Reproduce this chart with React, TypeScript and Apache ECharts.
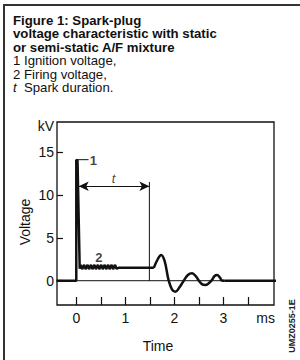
import React, { useEffect, useRef } from "react";
import * as echarts from "echarts";

// Spike + firing-voltage segment (ms, kV)
const spikeSeries: [number, number][] = [
  [-0.4, 0], [0, 0], [0, 14.1], [0.025, 14.0], [0.07, 1.4],
  [0.09, 1.85], [0.12, 1.35], [0.16, 1.85], [0.19, 1.35], [0.23, 1.85],
  [0.26, 1.35], [0.30, 1.85], [0.33, 1.35], [0.37, 1.85], [0.40, 1.35],
  [0.44, 1.85], [0.47, 1.35], [0.51, 1.85], [0.54, 1.35], [0.58, 1.85],
  [0.61, 1.35], [0.65, 1.85], [0.68, 1.35], [0.72, 1.85], [0.75, 1.35],
  [0.79, 1.85], [0.82, 1.4], [0.86, 1.5], [1.58, 1.5],
];
// Damped oscillation after spark end
const ringSeries: [number, number][] = [
  [1.58, 1.5], [1.66, 2.5], [1.73, 3.0], [1.8, 2.3], [1.88, 0.1],
  [1.95, -1.0], [2.02, -1.28], [2.1, -0.8], [2.19, 0], [2.28, 0.7],
  [2.36, 0.86], [2.44, 0.5], [2.5, 0], [2.56, -0.4], [2.63, -0.5],
  [2.7, -0.3], [2.76, 0.05], [2.82, 0.55], [2.87, 0.66], [2.93, 0.35],
  [2.97, 0.02], [3.02, 0],
];
const tailSeries: [number, number][] = [[3.02, 0], [4.1, 0]];
// Annotation lines
const zeroLine: [number, number][] = [[-0.4, 0], [4.1, 0]];
const sparkEndLine: [number, number][] = [[1.49, 0], [1.49, 11.5]];
const leaderLine: [number, number][] = [[0.02, 14.1], [0.25, 14.1]];
const durationArrow: [number, number][] = [[0.05, 11], [1.49, 11]];

const xTickValues = [0, 0.5, 1, 1.5, 2, 2.5, 3, 3.5];
const xLabelValues = [0, 1, 2, 3, 3.86];
const xLabelTexts = ["0", "1", "2", "3", "ms"];
const yTickValues = [0, 5, 10, 15];
const yLabelValues = [0, 5, 10, 15, 18.0];
const yLabelTexts = ["0", "5", "10", "15", "kV"];

const titleLines = [
  "Figure 1: Spark-plug",
  "voltage characteristic with static",
  "or semi-static A/F mixture",
];
const legendLines = ["1 Ignition voltage,", "2 Firing voltage,"];

const FONT = "'Liberation Sans', Arial, Helvetica, sans-serif";

export default function App() {
  const ref = useRef<HTMLDivElement>(null);
  useEffect(() => {
    if (!ref.current) return;
    const chart = echarts.init(ref.current, null, { renderer: "svg" });
    const titleY = [20, 33.5, 47];
    const legendY = [60.5, 74];
    const FS = 13.2;
    const graphic: any[] = [
      { type: "rect", shape: { x: 3, y: 4, width: 310, height: 2 }, style: { fill: "#333" } },
      { type: "rect", shape: { x: 3, y: 4, width: 2, height: 360 }, style: { fill: "#333" } },
      ...titleLines.map((t, i) => ({
        type: "text", x: 13, y: titleY[i],
        style: { text: t, font: `bold ${FS}px ${FONT}`, fill: "#111", verticalAlign: "middle" },
      })),
      ...legendLines.map((t, i) => ({
        type: "text", x: 13, y: legendY[i],
        style: { text: t, font: `${FS}px ${FONT}`, fill: "#111", verticalAlign: "middle" },
      })),
      {
        type: "text", x: 13, y: 87.5,
        style: {
          text: "{i|t}  Spark duration.",
          font: `${FS}px ${FONT}`, fill: "#111", verticalAlign: "middle",
          rich: { i: { fontStyle: "italic", fontFamily: FONT, fontSize: FS, fill: "#111" } },
        },
      },
      {
        type: "text", x: 158, y: 346,
        style: { text: "Time", font: `14px ${FONT}`, fill: "#111", align: "center", verticalAlign: "middle" },
      },
      {
        type: "text", x: 25, y: 222, rotation: Math.PI / 2,
        style: { text: "Voltage", font: `14px ${FONT}`, fill: "#111", align: "center", verticalAlign: "middle" },
      },
      {
        type: "text", x: 292, y: 326, rotation: Math.PI / 2,
        style: { text: "UMZ0255-1E", font: `bold 9px ${FONT}`, fill: "#222", align: "center", verticalAlign: "middle" },
      },
    ];

    const thin = (data: [number, number][]) => ({
      type: "line", data, showSymbol: false, silent: true,
      lineStyle: { color: "#111", width: 1 },
    });

    chart.setOption({
      animation: false,
      grid: { left: 57, right: 26, top: 122, bottom: 55, show: true, borderColor: "#111", borderWidth: 1.3, backgroundColor: "transparent" },
      xAxis: {
        type: "value", min: -0.393, max: 4.03,
        axisLine: { show: false, onZero: false },
        splitLine: { show: false },
        axisTick: { show: true, inside: true, length: 8, customValues: xTickValues, lineStyle: { color: "#111", width: 1.2 } },
        axisLabel: {
          customValues: xLabelValues, margin: 6, color: "#111", fontFamily: FONT, fontSize: 14,
          formatter: (v: number) => xLabelTexts[xLabelValues.indexOf(v)] ?? "",
        },
      },
      yAxis: {
        type: "value", min: -2.83, max: 18.49,
        axisLine: { show: false, onZero: false },
        splitLine: { show: false },
        axisTick: { show: true, inside: true, length: 6, customValues: yTickValues, lineStyle: { color: "#111", width: 1.2 } },
        axisLabel: {
          customValues: yLabelValues, margin: 3, color: "#111", fontFamily: FONT, fontSize: 14,
          formatter: (v: number) => yLabelTexts[yLabelValues.indexOf(v)] ?? "",
        },
      },
      graphic,
      series: [
        thin(zeroLine),
        thin(sparkEndLine),
        thin(leaderLine),
        {
          type: "line", data: [], silent: true,
          markLine: {
            silent: true, symbol: ["arrow", "arrow"], symbolSize: [7, 10], label: { show: false },
            lineStyle: { color: "#111", width: 1, type: "solid" },
            data: [[{ coord: durationArrow[0] }, { coord: durationArrow[1] }]],
          },
        },
        {
          type: "line", data: spikeSeries, showSymbol: false, smooth: false,
          lineStyle: { color: "#111", width: 2.5, join: "bevel" },
        },
        {
          type: "line", data: ringSeries, showSymbol: false, smooth: 0.4,
          lineStyle: { color: "#111", width: 2.5, join: "round" },
        },
        {
          type: "line", data: tailSeries, showSymbol: false,
          lineStyle: { color: "#111", width: 2.5 },
        },
        {
          type: "scatter", symbolSize: 0, silent: true,
          data: [
            { value: [0.35, 14.0], label: { formatter: "1", fontWeight: "bold" } },
            { value: [0.46, 2.75], label: { formatter: "2", fontWeight: "bold" } },
            { value: [0.76, 11.9], label: { formatter: "t", fontStyle: "italic" } },
          ],
          label: { show: true, position: "inside", color: "#111", fontFamily: FONT, fontSize: 13 },
        },
      ],
    });
    return () => chart.dispose();
  }, []);
  return <div ref={ref} style={{ position: "fixed", left: 0, top: 0, width: 300, height: 360, background: "#fff" }} />;
}
